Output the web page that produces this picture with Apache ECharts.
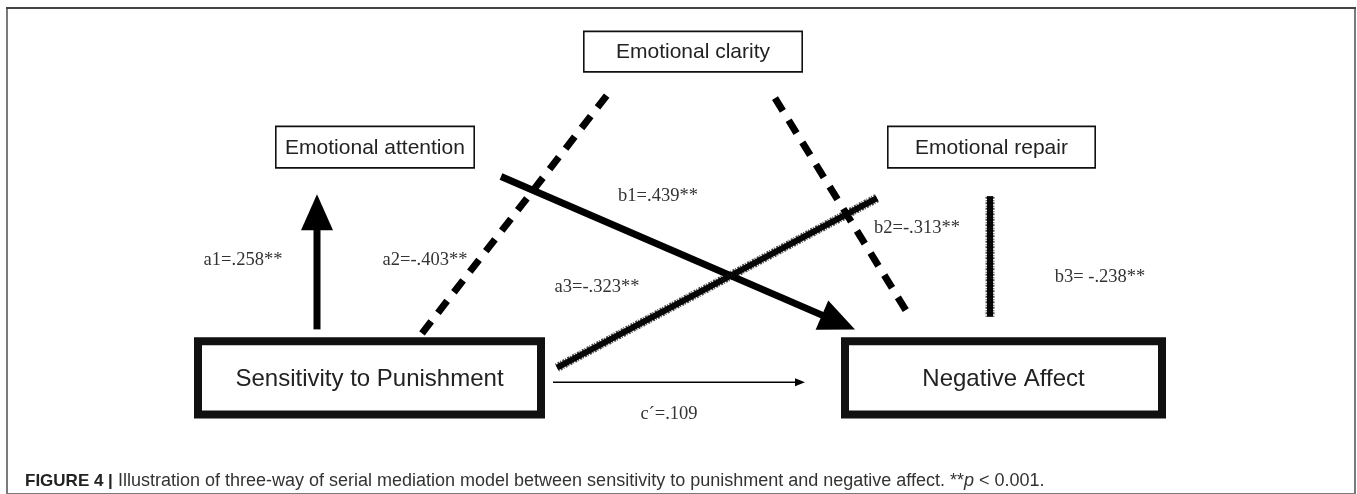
<!DOCTYPE html>
<html lang="en">
<head>
<meta charset="UTF-8">
<title>Figure 4</title>
<script src="https://cdn.jsdelivr.net/npm/echarts@6/dist/echarts.min.js"></script>
<style>
    html, body { margin: 0; padding: 0; background: #fff; }
    #main { width: 1357px; height: 494px; }
</style>
</head>
<body>
<div id="main"></div>
<script>
// boxes of the model, in figure units (left, top, width, height)
var nodeNames = ['Emotional clarity', 'Emotional attention', 'Emotional repair', 'Sensitivity to Punishment', 'Negative Affect'];
var nodeX = [583, 275, 887, 194, 841];
var nodeY = [31, 128, 128, 344, 344];
var nodeW = [220, 200, 209, 351, 325];
var nodeH = [43, 44, 44, 83, 83];
var nodeMain = [false, false, false, true, true];

// paths between the boxes
var pathNames = ['a1', 'a2', 'b1', 'a3', 'b2', 'b3', 'c'];
var pathStart = [[317, 336], [422, 340], [501, 180], [557, 375], [775, 100], [990, 323], [553, 390]];
var pathEnd = [[317, 198], [607, 97], [855, 336], [877, 202], [908, 320], [990, 200], [805, 390]];
var pathKind = ['arrow', 'dash', 'arrow', 'rough', 'dash', 'rough', 'thin'];

// coefficients
var coefText = ['a1=.258**', 'a2=-.403**', 'b1=.439**', 'a3=-.323**', 'b2=-.313**', 'b3= -.238**', 'c\u00b4=.109'];
var coefX = [243, 425, 658, 597, 917, 1100, 669];
var coefY = [265, 265, 200, 293, 233, 283, 422];

var sans = "'Liberation Sans', Arial, sans-serif";
var serif = "'Liberation Serif', 'Times New Roman', serif";

var myChart = echarts.init(document.getElementById('main'));

function edgeItem(params, api) {
    var i = params.dataIndex;
    var k = pathKind[i];
    var a = api.coord(pathStart[i]);
    var b = api.coord(pathEnd[i]);
    var kids = [];
    if (k === 'arrow' || k === 'thin') {
        var headL = k === 'arrow' ? 36 : 10;
        var headW = k === 'arrow' ? 32 : 8;
        var lw = k === 'arrow' ? 7 : 1.5;
        var dx = b[0] - a[0], dy = b[1] - a[1];
        var len = Math.sqrt(dx * dx + dy * dy);
        var ux = dx / len, uy = dy / len;
        var bx = b[0] - ux * headL, by = b[1] - uy * headL;
        kids.push({type: 'line', shape: {x1: a[0], y1: a[1], x2: bx + ux * 2, y2: by + uy * 2},
            style: {stroke: '#000', lineWidth: lw}});
        kids.push({type: 'polygon', shape: {points: [[b[0], b[1]],
            [bx - uy * headW / 2, by + ux * headW / 2], [bx + uy * headW / 2, by - ux * headW / 2]]},
            style: {fill: '#000'}});
    } else if (k === 'dash') {
        kids.push({type: 'line', shape: {x1: a[0], y1: a[1], x2: b[0], y2: b[1]},
            style: {stroke: '#000', lineWidth: 7, lineDash: [15, 11], lineCap: 'butt'}});
    } else {
        // charcoal-like stroke: solid core with a ragged darker fringe
        kids.push({type: 'line', shape: {x1: a[0], y1: a[1], x2: b[0], y2: b[1]},
            style: {stroke: '#0a0a0a', lineWidth: 6}});
        kids.push({type: 'line', shape: {x1: a[0], y1: a[1], x2: b[0], y2: b[1]},
            style: {stroke: 'rgba(0,0,0,0.7)', lineWidth: 9, lineDash: [1, 1.5, 2, 1], lineCap: 'butt'}});
    }
    return {type: 'group', children: kids};
}

function nodeItem(params, api) {
    var i = params.dataIndex;
    var p0 = api.coord([nodeX[i], nodeY[i]]);
    var p1 = api.coord([nodeX[i] + nodeW[i], nodeY[i] + nodeH[i]]);
    var bw = nodeMain[i] ? 8 : 1.6;
    return {
        type: 'group',
        children: [
            {type: 'rect', shape: {x: p0[0] + bw / 2, y: p0[1] + bw / 2, width: p1[0] - p0[0] - bw, height: p1[1] - p0[1] - bw},
                style: {fill: '#fff', stroke: '#111', lineWidth: bw}},
            {type: 'text', style: {text: nodeNames[i], x: (p0[0] + p1[0]) / 2, y: (p0[1] + p1[1]) / 2 + 1,
                align: 'center', verticalAlign: 'middle', fill: '#222',
                font: (nodeMain[i] ? 24 : 21) + 'px ' + sans}}
        ]
    };
}

function coefItem(params, api) {
    var i = params.dataIndex;
    var p = api.coord([coefX[i], coefY[i]]);
    return {type: 'text', style: {text: coefText[i], x: p[0], y: p[1], align: 'center', verticalAlign: 'middle',
        fill: '#333', font: '18.5px ' + serif}};
}

var option = {
    animation: false,
    title: {
        left: 20,
        top: 467,
        text: '{b|FIGURE 4 |} {r|Illustration of three-way of serial mediation model between sensitivity to punishment and negative affect. **}{i|p}{r| < 0.001.}',
        textStyle: {
            rich: {
                b: {fontFamily: sans, fontWeight: 'bold', fontSize: 17, color: '#222'},
                r: {fontFamily: sans, fontWeight: 'normal', fontSize: 18, color: '#333'},
                i: {fontFamily: sans, fontWeight: 'normal', fontSize: 18, fontStyle: 'italic', color: '#333'}
            }
        }
    },
    graphic: [
        {type: 'line', shape: {x1: 6, y1: 8, x2: 1356, y2: 8}, style: {stroke: '#444', lineWidth: 2}, z: 10}
    ],
    grid: {left: 7, top: 8, width: 1348, height: 496, show: true, borderColor: '#7a7a7a', borderWidth: 2},
    xAxis: {type: 'value', min: 7, max: 1355, show: false},
    yAxis: {type: 'value', min: 8, max: 504, inverse: true, show: false},
    series: [
        {type: 'custom', name: 'paths', renderItem: edgeItem, z: 2,
            data: pathNames.map(function (n, i) { return [pathStart[i][0], pathStart[i][1]]; })},
        {type: 'custom', name: 'boxes', renderItem: nodeItem, z: 3,
            data: nodeNames.map(function (n, i) { return [nodeX[i], nodeY[i]]; })},
        {type: 'custom', name: 'coef', renderItem: coefItem, z: 4,
            data: coefText.map(function (n, i) { return [coefX[i], coefY[i]]; })}
    ]
};
myChart.setOption(option);
</script>
</body>
</html>
